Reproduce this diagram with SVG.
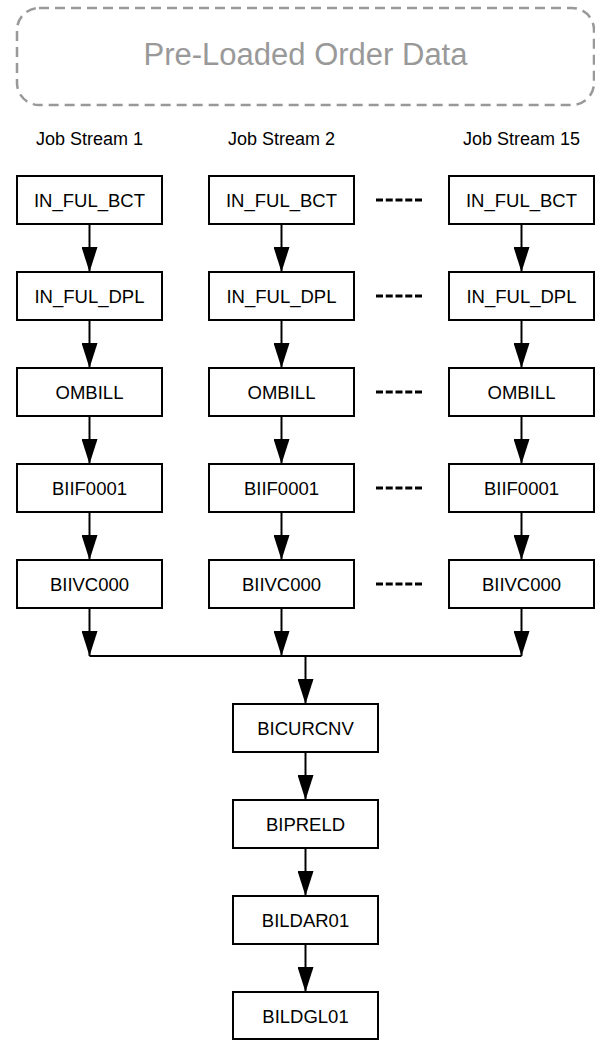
<svg xmlns="http://www.w3.org/2000/svg" width="595" height="1040" viewBox="0 0 595 1040">
<defs>
<marker id="ah" viewBox="0 0 25 16" refX="25" refY="8" markerWidth="25" markerHeight="16" markerUnits="userSpaceOnUse" orient="auto">
<path d="M0,0 L25,8 L0,16 Z" fill="#000"/>
</marker>
<style>
.box{fill:#fff;stroke:#000;stroke-width:2}
.lbl{font-family:"Liberation Sans",Arial,sans-serif;font-size:18.5px;fill:#000;text-anchor:middle}
.hdr{font-family:"Liberation Sans",Arial,sans-serif;font-size:18px;fill:#000;text-anchor:middle}
.c{fill:none;stroke:#000;stroke-width:2}
.a{fill:none;stroke:#000;stroke-width:2;marker-end:url(#ah)}
.dots{stroke:#000;stroke-width:3;stroke-dasharray:7 2.75}
</style>
</defs>
<g id="preloaded">
<rect x="17" y="8" width="577" height="97" rx="22" ry="22" fill="none" stroke="#999" stroke-width="2.5" stroke-dasharray="10 6"/>
<text x="305.5" y="65" font-family="Liberation Sans,Arial,sans-serif" font-size="31" fill="#999" text-anchor="middle">Pre-Loaded Order Data</text>
</g>
<g id="headers">
<text class="hdr" x="89.5" y="145">Job Stream 1</text>
<text class="hdr" x="281.5" y="145">Job Stream 2</text>
<text class="hdr" x="521.5" y="145">Job Stream 15</text>
</g>
<g id="connectors">
<line class="a" x1="89.5" y1="224" x2="89.5" y2="272"/>
<line class="a" x1="89.5" y1="320" x2="89.5" y2="368"/>
<line class="a" x1="89.5" y1="416" x2="89.5" y2="464"/>
<line class="a" x1="89.5" y1="512" x2="89.5" y2="560"/>
<line class="a" x1="89.5" y1="608" x2="89.5" y2="656"/>
<line class="a" x1="281.5" y1="224" x2="281.5" y2="272"/>
<line class="a" x1="281.5" y1="320" x2="281.5" y2="368"/>
<line class="a" x1="281.5" y1="416" x2="281.5" y2="464"/>
<line class="a" x1="281.5" y1="512" x2="281.5" y2="560"/>
<line class="a" x1="281.5" y1="608" x2="281.5" y2="656"/>
<line class="a" x1="521.5" y1="224" x2="521.5" y2="272"/>
<line class="a" x1="521.5" y1="320" x2="521.5" y2="368"/>
<line class="a" x1="521.5" y1="416" x2="521.5" y2="464"/>
<line class="a" x1="521.5" y1="512" x2="521.5" y2="560"/>
<line class="a" x1="521.5" y1="608" x2="521.5" y2="656"/>
<line class="c" x1="89.5" y1="656" x2="521.5" y2="656"/>
<line class="a" x1="305.5" y1="656" x2="305.5" y2="704"/>
<line class="a" x1="305.5" y1="752" x2="305.5" y2="800"/>
<line class="a" x1="305.5" y1="848" x2="305.5" y2="896"/>
<line class="a" x1="305.5" y1="944" x2="305.5" y2="992"/>
<line class="dots" x1="376" y1="200" x2="422" y2="200"/>
<line class="dots" x1="376" y1="296" x2="422" y2="296"/>
<line class="dots" x1="376" y1="392" x2="422" y2="392"/>
<line class="dots" x1="376" y1="488" x2="422" y2="488"/>
<line class="dots" x1="376" y1="584" x2="422" y2="584"/>
</g>
<g id="s1_bct"><rect class="box" x="17" y="176" width="145" height="48"/><text class="lbl" x="89.5" y="206.5">IN_FUL_BCT</text></g>
<g id="s1_dpl"><rect class="box" x="17" y="272" width="145" height="48"/><text class="lbl" x="89.5" y="302.5">IN_FUL_DPL</text></g>
<g id="s1_ombill"><rect class="box" x="17" y="368" width="145" height="48"/><text class="lbl" x="89.5" y="398.5">OMBILL</text></g>
<g id="s1_biif"><rect class="box" x="17" y="464" width="145" height="48"/><text class="lbl" x="89.5" y="494.5">BIIF0001</text></g>
<g id="s1_biivc"><rect class="box" x="17" y="560" width="145" height="48"/><text class="lbl" x="89.5" y="590.5">BIIVC000</text></g>
<g id="s2_bct"><rect class="box" x="209" y="176" width="145" height="48"/><text class="lbl" x="281.5" y="206.5">IN_FUL_BCT</text></g>
<g id="s2_dpl"><rect class="box" x="209" y="272" width="145" height="48"/><text class="lbl" x="281.5" y="302.5">IN_FUL_DPL</text></g>
<g id="s2_ombill"><rect class="box" x="209" y="368" width="145" height="48"/><text class="lbl" x="281.5" y="398.5">OMBILL</text></g>
<g id="s2_biif"><rect class="box" x="209" y="464" width="145" height="48"/><text class="lbl" x="281.5" y="494.5">BIIF0001</text></g>
<g id="s2_biivc"><rect class="box" x="209" y="560" width="145" height="48"/><text class="lbl" x="281.5" y="590.5">BIIVC000</text></g>
<g id="s15_bct"><rect class="box" x="449" y="176" width="145" height="48"/><text class="lbl" x="521.5" y="206.5">IN_FUL_BCT</text></g>
<g id="s15_dpl"><rect class="box" x="449" y="272" width="145" height="48"/><text class="lbl" x="521.5" y="302.5">IN_FUL_DPL</text></g>
<g id="s15_ombill"><rect class="box" x="449" y="368" width="145" height="48"/><text class="lbl" x="521.5" y="398.5">OMBILL</text></g>
<g id="s15_biif"><rect class="box" x="449" y="464" width="145" height="48"/><text class="lbl" x="521.5" y="494.5">BIIF0001</text></g>
<g id="s15_biivc"><rect class="box" x="449" y="560" width="145" height="48"/><text class="lbl" x="521.5" y="590.5">BIIVC000</text></g>
<g id="bicurcnv"><rect class="box" x="233" y="704" width="145" height="48"/><text class="lbl" x="305.5" y="734.5">BICURCNV</text></g>
<g id="bipreld"><rect class="box" x="233" y="800" width="145" height="48"/><text class="lbl" x="305.5" y="830.5">BIPRELD</text></g>
<g id="bildar01"><rect class="box" x="233" y="896" width="145" height="48"/><text class="lbl" x="305.5" y="926.5">BILDAR01</text></g>
<g id="bildgl01"><rect class="box" x="233" y="992" width="145" height="47"/><text class="lbl" x="305.5" y="1022.5">BILDGL01</text></g>
</svg>
